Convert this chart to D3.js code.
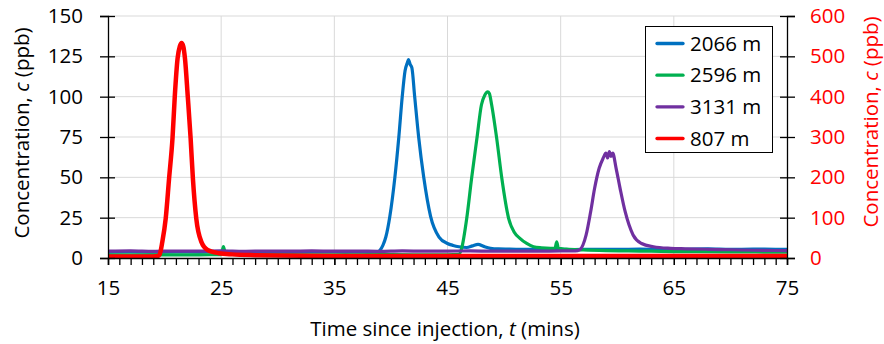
<!DOCTYPE html>
<html><head><meta charset="utf-8">
<script src="https://cdn.jsdelivr.net/npm/d3@7"></script>
<style>
html,body{margin:0;padding:0;background:#fff;}
svg{display:block;font-family:"Open Sans",sans-serif;}
</style></head><body>
<svg id="c" width="884" height="344"></svg>
<script>
// ---- data ----
const xTicks = [15,25,35,45,55,65,75];
const yLeftTicks = [0,25,50,75,100,125,150];
const yRightTicks = [0,100,200,300,400,500,600];
const seriesNames = ["2066 m","2596 m","3131 m","807 m"];
const seriesColors = ["#0070C0","#00B050","#7030A0","#FF0000"];
// [time (mins), concentration (ppb)]
const s2066 = [[15,3.7],[17,3.9],[19,3.6],[21,3.8],[23,3.7],[25,3.9],[27,3.7],[29,3.8],[31,3.6],[33,3.9],[35,3.9],[36,3.7],[37,3.8],[38,3.7],[38.8,3.9],[39.05,5],[39.3,8],[39.55,13],[39.9,25.6],[40.35,50],[40.7,75],[41.0,100],[41.25,116],[41.45,121],[41.55,123],[41.7,120],[41.85,118],[42.1,100],[42.45,75],[42.9,50],[43.5,26],[44.25,13],[45.0,9],[45.5,7.8],[46.0,7],[46.7,6.5],[47.2,7.5],[47.7,8.5],[48.2,7.2],[48.8,6],[49.5,5.6],[50.5,5.5],[52,5.3],[54,5.4],[56,5.2],[58,5.4],[60,5.3],[62,5.5],[64,5.3],[66,5.4],[68,5.6],[70,5.3],[72,5.5],[74,5.4],[75,5.4]];
const s2596 = [[15,1.9],[18,2.0],[21,1.9],[24,2.0],[25.0,2.0],[25.2,7],[25.4,2.2],[28,2.1],[31,2.0],[34,1.9],[37,2.0],[40,2.1],[43,2.0],[45,2.0],[46.0,2.3],[46.25,6],[46.7,24.6],[47.13,49.4],[47.6,74.2],[48.0,95],[48.3,101],[48.55,103],[48.7,102],[48.9,95],[49.35,74],[49.8,49.4],[50.4,24.6],[50.9,16],[51.4,12.2],[52.0,9],[52.6,7],[53.3,6.3],[54.1,6],[54.5,6],[54.65,10],[54.8,6],[55.5,5.5],[57,5],[59,4.6],[61,4.4],[63,4.2],[65,4.0],[67,3.9],[70,3.8],[73,3.7],[75,3.7]];
const s3131 = [[15,4.2],[17,4.4],[19,4.1],[21,4.3],[23,4.2],[25,4.4],[27,4.1],[29,4.3],[31,4.2],[33,4.4],[35,4.2],[37,4.3],[39,4.1],[41,4.4],[43,4.2],[45,4.3],[47,4.4],[49,4.2],[51,4.3],[53,4.2],[55,4.4],[56.3,4.4],[56.7,5.2],[57.25,14.3],[57.65,28.7],[58.0,43.2],[58.4,55.6],[58.75,61.8],[59.0,65],[59.15,62],[59.3,66],[59.45,63],[59.6,65],[59.9,55.6],[60.25,43.2],[60.7,28.7],[61.4,14.3],[62.15,9],[63.2,7],[64.7,6],[66,5.7],[68,5.4],[70,5.1],[72,4.8],[75,4.6]];
// right axis series
const s807 = [[15,4],[17,4],[19,4],[19.4,5],[19.55,8],[19.8,40],[20.1,98],[20.4,198],[20.7,297],[20.9,400],[21.15,495],[21.35,525],[21.5,533],[21.65,525],[21.8,495],[22.05,400],[22.3,297],[22.5,198],[22.8,98],[23.25,40],[23.8,20],[24.8,12],[26,9],[28,7],[30,6],[35,5],[40,5],[45,5],[50,5],[55,5],[60,5],[65,5],[70,5],[75,5]];

// ---- layout ----
const L=108, R=787, T=16, B=258;
const svg = d3.select("#c");
const x = d3.scaleLinear().domain([15,75]).range([L,R]);
const yL = d3.scaleLinear().domain([0,150]).range([B,T]);
const yR = d3.scaleLinear().domain([0,600]).range([B,T]);

// gridlines
const g = svg.append("g");
g.selectAll("line.h").data(yLeftTicks.filter(d=>d>0)).join("line")
  .attr("x1",L).attr("x2",R).attr("y1",d=>yL(d)).attr("y2",d=>yL(d))
  .attr("stroke","#D9D9D9").attr("stroke-width",1);
g.selectAll("line.v").data(xTicks.filter(d=>d>15&&d<75)).join("line")
  .attr("x1",d=>x(d)).attr("x2",d=>x(d)).attr("y1",T).attr("y2",B)
  .attr("stroke","#D9D9D9").attr("stroke-width",1);

// clip
svg.append("clipPath").attr("id","clip").append("rect")
  .attr("x",L).attr("y",T-2).attr("width",R-L).attr("height",B-T+2);

const lineL = d3.line().x(d=>x(d[0])).y(d=>yL(d[1])).curve(d3.curveMonotoneX);
const lineR = d3.line().x(d=>x(d[0])).y(d=>yR(d[1])).curve(d3.curveMonotoneX);
const lines = svg.append("g").attr("clip-path","url(#clip)");
[[s2066,0],[s2596,1],[s3131,2]].forEach(([s,i])=>{
  lines.append("path").attr("d",lineL(s)).attr("fill","none")
    .attr("stroke",seriesColors[i]).attr("stroke-width",3.2)
    .attr("stroke-linejoin","round").attr("stroke-linecap","round");
});
lines.append("path").attr("d",lineR(s807)).attr("fill","none")
  .attr("stroke",seriesColors[3]).attr("stroke-width",4.5)
  .attr("stroke-linejoin","round").attr("stroke-linecap","round");

// axes
const FS = 20.5;
const axL = svg.append("g").attr("transform",`translate(${L},0)`)
  .call(d3.axisLeft(yL).tickValues(yLeftTicks).tickSize(8).tickPadding(17));
const axR = svg.append("g").attr("transform",`translate(${R},0)`)
  .call(d3.axisRight(yR).tickValues(yRightTicks).tickSize(8).tickPadding(15));
const axB = svg.append("g").attr("transform",`translate(0,${B})`)
  .call(d3.axisBottom(x).tickValues(d3.range(15,76,1)).tickSize(7).tickFormat(""));
const axB2 = svg.append("g").attr("transform",`translate(0,${B})`)
  .call(d3.axisBottom(x).tickValues(xTicks).tickSize(7).tickPadding(15));
[axL,axR,axB,axB2].forEach(a=>{
  a.select(".domain").attr("stroke","#000").attr("stroke-width",1.3);
  a.selectAll(".tick line").attr("stroke","#000").attr("stroke-width",1.3);
  a.selectAll("text").attr("font-family","Open Sans").attr("font-size",FS).attr("fill","#000");
});
axB2.select(".domain").remove();
// crossing ticks on y axes
axL.selectAll(".tick line").attr("x2",-8).attr("x1",7);
axR.selectAll(".tick line").attr("x1",-7).attr("x2",8);
axR.selectAll("text").attr("fill","#FF0000");
axB2.selectAll(".tick text").attr("dy","0.71em");

// axis titles
const tl = svg.append("text").attr("transform","translate(29,133) rotate(-90)")
  .attr("text-anchor","middle").attr("font-size",FS).attr("fill","#000");
tl.append("tspan").text("Concentration, ");
tl.append("tspan").attr("font-style","italic").text("c");
tl.append("tspan").text(" (ppb)");
const tr = svg.append("text").attr("transform","translate(878,122) rotate(-90)")
  .attr("text-anchor","middle").attr("font-size",FS).attr("fill","#FF0000");
tr.append("tspan").text("Concentration, ");
tr.append("tspan").attr("font-style","italic").text("c");
tr.append("tspan").text(" (ppb)");
const tx = svg.append("text").attr("x",445).attr("y",336)
  .attr("text-anchor","middle").attr("font-size",FS).attr("fill","#000");
tx.append("tspan").text("Time since injection, ");
tx.append("tspan").attr("font-style","italic").text("t");
tx.append("tspan").text(" (mins)");

// legend
const lg = svg.append("g");
lg.append("rect").attr("x",645.5).attr("y",26.5).attr("width",127).attr("height",126)
  .attr("fill","#fff").attr("stroke","#000").attr("stroke-width",1);
const ly = d3.scalePoint().domain(seriesNames).range([43.5,138.5]);
seriesNames.forEach((n,i)=>{
  lg.append("line").attr("x1",657).attr("x2",683).attr("y1",ly(n)).attr("y2",ly(n))
    .attr("stroke",seriesColors[i]).attr("stroke-width",3.3).attr("stroke-linecap","round");
  lg.append("text").attr("x",690).attr("y",ly(n)).attr("dy","0.35em")
    .attr("font-size",FS).attr("fill","#000").text(n);
});
</script>
</body></html>
